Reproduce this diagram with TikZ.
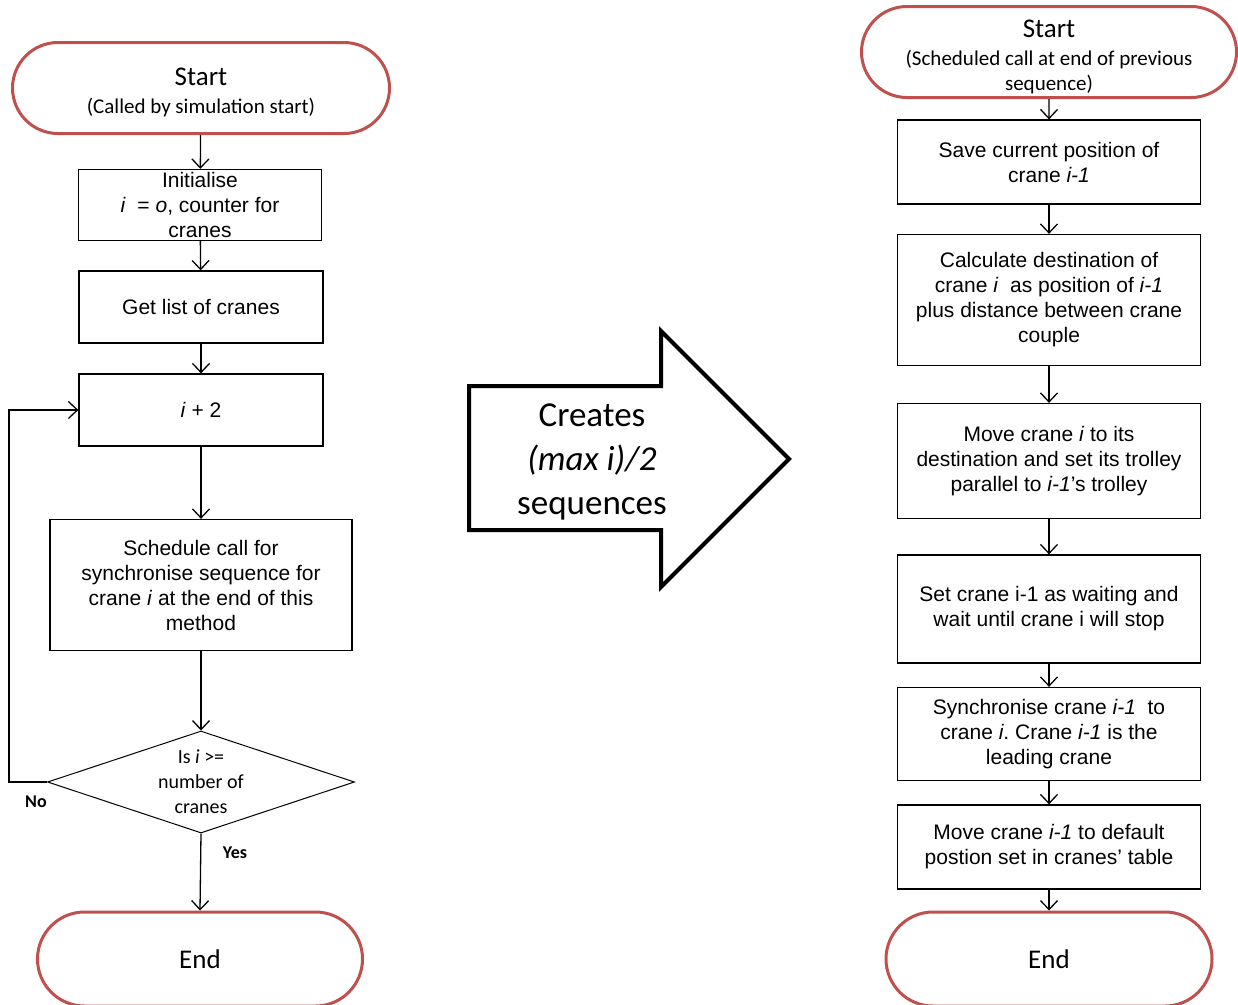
\documentclass[tikz,border=0pt]{standalone}
\usepackage{fontspec}
\setmainfont{Liberation Sans}
\newfontfamily\calib{Carlito}
\usetikzlibrary{shapes.misc,shapes.geometric,arrows.meta}
\definecolor{termred}{RGB}{192,80,77}
\frenchspacing
\tikzset{
  term/.style={rounded rectangle,draw=termred,line width=3,inner sep=0,align=center,font=\calib\fontsize{21}{25}\selectfont},
  proc/.style={draw,line width=1.3,inner sep=0,align=center,font=\fontsize{21}{25}\selectfont},
  decide/.style={diamond,draw,line width=1,inner sep=0,aspect=3,align=center,font=\calib\fontsize{20}{25}\selectfont},
  flowlbl/.style={font=\calib\bfseries\fontsize{18}{22}\selectfont}
}
\begin{document}
\begin{tikzpicture}[x=1pt,y=-1pt,line width=1.3,>={Straight Barb[length=9,width=17]}]
\useasboundingbox (0,0) rectangle (1238,1004);
% left: main method
\node[term,minimum width=377,minimum height=91] (startL) at (201,88) {{\fontsize{27}{30}\selectfont\rule{0pt}{26pt}Start}\\[3pt] (Called by simulation start)};
\node[proc,minimum width=243,minimum height=71] (init) at (200,205) {Initialise\\ \textit{i}\ \ = \textit{o}, counter for\\ cranes};
\node[proc,minimum width=244,minimum height=72] (list) at (201,307) {Get list of cranes};
\node[proc,minimum width=244,minimum height=72] (inc) at (201,410) {\textit{i} + 2};
\node[proc,minimum width=302,minimum height=131] (sched) at (201,585) {Schedule call for\\ synchronise sequence for\\ crane \textit{i} at the end of this\\ method};
\node[decide,minimum width=307,minimum height=102] (dec) at (201,782) {Is \textit{i} >=\\ number of\\ cranes};
\node[term,minimum width=325,minimum height=94] (endL) at (200,959) {\fontsize{27}{30}\selectfont End};
\node[flowlbl] (no) at (36,802) {No};
\node[flowlbl] (yes) at (235,853) {Yes};
\draw[->] (startL) -- (init);
\draw[->] (init) -- (list);
\draw[->] (list) -- (inc);
\draw[->] (inc) -- (sched);
\draw[->] (sched) -- (dec);
\draw[->] (dec.south) -- (endL.north);
\draw[->] (dec.west) -- ++(-38,0) |- (inc.west);
% middle: big arrow
\draw[line width=4,line join=miter] (469,386) -- (661,386) -- (661,331) -- (789,459) -- (661,587) -- (661,530) -- (469,530) -- cycle;
\node[align=center,font=\calib\fontsize{35}{44}\selectfont] (creates) at (592,462) {Creates\\ \textit{(max i)/2}\\ sequences};
% right: synchronise sequence
\node[term,minimum width=375,minimum height=91] (startR) at (1049,52) {{\fontsize{27}{30}\selectfont\rule{0pt}{27pt}Start}\\[3pt] (Scheduled call at end of previous\\ sequence)};
\node[proc,minimum width=303,minimum height=84] (save) at (1049,162) {Save current position of\\ crane \textit{i-1}};
\node[proc,minimum width=303,minimum height=131] (calc) at (1049,300) {Calculate destination of\\ crane \textit{i}\ \ as position of \textit{i-1}\\ plus distance between crane\\ couple};
\node[proc,minimum width=303,minimum height=115] (move) at (1049,461) {Move crane \textit{i} to its\\ destination and set its trolley\\ parallel to \textit{i-1}’s trolley};
\node[proc,minimum width=303,minimum height=108] (wait) at (1049,609) {Set crane i-1 as waiting and\\ wait until crane i will stop};
\node[proc,minimum width=303,minimum height=93] (sync) at (1049,734) {Synchronise crane \textit{i-1}\ \ to\\ crane \textit{i}. Crane \textit{i-1} is the\\ leading crane};
\node[proc,minimum width=303,minimum height=84] (back) at (1049,847) {Move crane \textit{i-1} to default\\ postion set in cranes’ table};
\node[term,minimum width=326,minimum height=94] (endR) at (1049,959) {\fontsize{27}{30}\selectfont End};
\draw[->] (startR) -- (save);
\draw[->] (save) -- (calc);
\draw[->] (calc) -- (move);
\draw[->] (move) -- (wait);
\draw[->] (wait) -- (sync);
\draw[->] (sync) -- (back);
\draw[->] (back) -- (endR);
\end{tikzpicture}
\end{document}
